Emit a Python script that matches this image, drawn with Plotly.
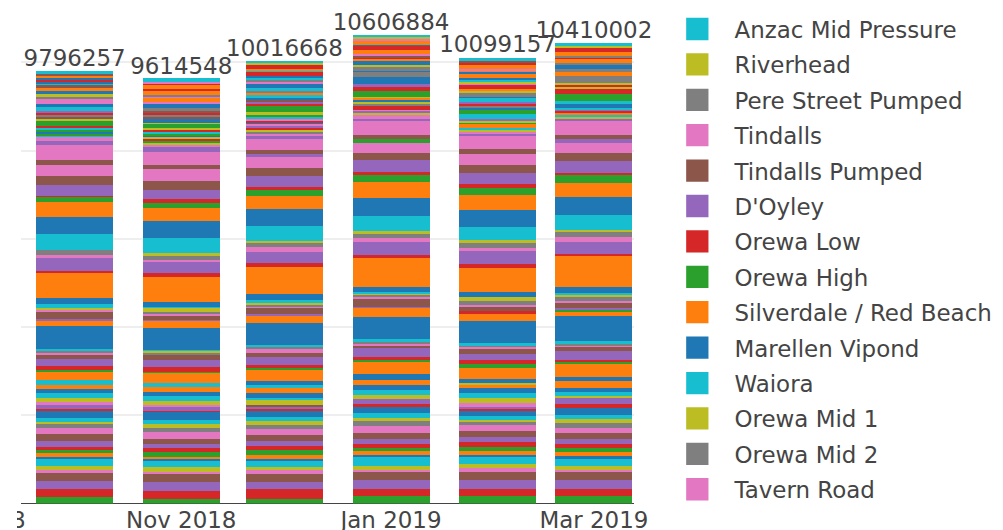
import pandas as pd
import plotly.graph_objects as go

months = ["2018-10-01", "2018-11-01", "2018-12-01", "2019-01-01", "2019-02-01", "2019-03-01"]
totals = [9796257, 9614548, 10016668, 10606884, 10099157, 10410002]

# legend entries, top of the legend first (= top of each stack)
legend_names = ["Anzac Mid Pressure", "Riverhead", "Pere Street Pumped", "Tindalls",
                "Tindalls Pumped", "D'Oyley", "Orewa Low", "Orewa High",
                "Silverdale / Red Beach", "Marellen Vipond", "Waiora", "Orewa Mid 1",
                "Orewa Mid 2", "Tavern Road"]

# per-month values of every zone, stacking order (bottom first)
oct_2018 = [
    0, 0, 136400, 181800, 181800, 181800, 113600, 0, 45500, 181800,
    22700, 90900, 90900, 45500, 136400, 159100, 136400, 113600, 68200, 45500,
    181800, 0, 0, 68200, 68200, 0, 45500, 0, 90900, 113600,
    90900, 90900, 0, 0, 0, 0, 0, 0, 0, 113600,
    0, 227300, 22700, 68200, 159100, 113600, 45500, 22700, 22700, 22700,
    522700, 136400, 0, 0, 22700, 181800, 22700, 22700, 45500, 68200,
    136400, 568200, 0, 45500, 295500, 0, 68200, 113600, 0, 363600,
    386400, 340900, 113600, 22700, 250000, 204500, 250000, 0, 0, 0,
    0, 0, 0, 0, 0, 113600, 340900, 0, 0, 0,
    0, 0, 0, 0, 90900, 0, 90900, 0, 0, 34100,
    0, 0, 34100, 34100, 0, 0, 0, 0, 0, 0,
    34100, 0, 22700, 0, 0, 0, 0, 0, 22700, 22700,
    0, 22700, 0, 22700, 0, 0, 0, 0, 0, 0,
    0, 0, 136400, 0, 0, 0, 0, 0, 45500, 0,
    0, 0, 0, 0, 0, 45500, 0, 45500, 0, 0,
    0, 0, 0, 34100, 34100, 0, 0, 0, 0, 68200,
    113600, 0, 0, 0, 0, 0, 68200, 90900, 34100, 0,
    90900, 45500, 0, 0, 0, 90900, 0, 0, 0, 34100,
    34100, 0, 0, 45500, 0, 0, 4500, 4500, 4500, 4500,
    4500, 45500, 4500, 22700, 4500, 4500, 22700, 4500, 4500, 34100,
]
nov_2018 = [
    0, 0, 113600, 159100, 204500, 181800, 90900, 0, 68200, 181800,
    22700, 68200, 68200, 90900, 90900, 113600, 159100, 90900, 113600, 68200,
    204500, 0, 0, 45500, 68200, 0, 45500, 0, 68200, 113600,
    90900, 113600, 0, 0, 0, 0, 0, 0, 0, 90900,
    0, 250000, 45500, 68200, 159100, 136400, 22700, 22700, 22700, 22700,
    500000, 159100, 0, 0, 22700, 113600, 45500, 22700, 90900, 68200,
    68200, 590900, 0, 68200, 250000, 0, 68200, 68200, 68200, 340900,
    386400, 295500, 113600, 90900, 204500, 204500, 272700, 0, 0, 0,
    0, 0, 0, 0, 0, 90900, 295500, 0, 0, 0,
    0, 0, 0, 0, 113600, 0, 68200, 0, 22700, 22700,
    0, 0, 45500, 34100, 0, 0, 0, 0, 34100, 0,
    45500, 0, 22700, 0, 0, 0, 0, 0, 22700, 22700,
    0, 22700, 0, 34100, 0, 0, 0, 0, 22700, 0,
    0, 0, 113600, 0, 0, 0, 0, 0, 34100, 0,
    68200, 0, 0, 0, 0, 45500, 0, 45500, 0, 0,
    0, 0, 0, 34100, 0, 68200, 0, 68200, 0, 0,
    68200, 0, 0, 0, 0, 0, 45500, 22700, 0, 0,
    0, 68200, 0, 0, 0, 0, 45500, 45500, 0, 22700,
    0, 68200, 0, 34100, 0, 0, 4500, 4500, 4500, 4500,
    4500, 68200, 4500, 22700, 4500, 4500, 34100, 4500, 4500, 34100,
]
dec_2018 = [
    0, 0, 113600, 204500, 159100, 227300, 68200, 0, 45500, 181800,
    22700, 68200, 113600, 90900, 113600, 136400, 136400, 90900, 90900, 90900,
    181800, 0, 0, 22700, 22700, 90900, 0, 0, 68200, 90900,
    68200, 136400, 0, 0, 0, 0, 0, 0, 0, 45500,
    90900, 272700, 45500, 45500, 181800, 113600, 68200, 45500, 22700, 22700,
    500000, 181800, 0, 0, 22700, 159100, 22700, 45500, 45500, 45500,
    136400, 613600, 0, 90900, 250000, 0, 113600, 90900, 45500, 340900,
    386400, 295500, 159100, 45500, 250000, 181800, 250000, 0, 0, 0,
    0, 0, 0, 0, 90900, 68200, 272700, 0, 0, 0,
    0, 0, 0, 0, 45500, 0, 68200, 22700, 34100, 22700,
    0, 0, 0, 34100, 45500, 0, 45500, 0, 0, 0,
    34100, 22700, 0, 34100, 0, 0, 34100, 0, 0, 22700,
    0, 22700, 34100, 22700, 0, 0, 0, 0, 34100, 0,
    0, 0, 136400, 0, 0, 0, 0, 0, 0, 0,
    0, 0, 34100, 34100, 31800, 45500, 0, 0, 0, 0,
    45500, 0, 0, 0, 0, 0, 0, 0, 0, 68200,
    0, 45500, 0, 0, 0, 0, 0, 45500, 0, 45500,
    113600, 0, 0, 0, 0, 0, 68200, 45500, 0, 45500,
    45500, 0, 0, 45500, 0, 0, 4500, 4500, 4500, 34100,
    4500, 68200, 4500, 45500, 4500, 4500, 22700, 4500, 4500, 34100,
]
jan_2019 = [
    0, 0, 159100, 159100, 204500, 181800, 90900, 0, 45500, 227300,
    22700, 90900, 90900, 68200, 113600, 136400, 159100, 113600, 113600, 68200,
    159100, 0, 0, 45500, 113600, 0, 0, 0, 90900, 113600,
    113600, 113600, 0, 0, 0, 0, 0, 0, 0, 0,
    136400, 272700, 45500, 68200, 204500, 90900, 45500, 22700, 22700, 22700,
    500000, 204500, 0, 0, 22700, 181800, 45500, 68200, 45500, 45500,
    68200, 681800, 0, 45500, 295500, 0, 90900, 90900, 68200, 340900,
    409100, 363600, 159100, 68200, 272700, 159100, 250000, 0, 0, 0,
    0, 0, 68200, 0, 0, 90900, 318200, 0, 0, 0,
    0, 0, 0, 0, 68200, 0, 68200, 0, 45500, 0,
    0, 0, 0, 0, 45500, 0, 45500, 0, 0, 0,
    0, 0, 0, 68200, 0, 0, 0, 45500, 34100, 0,
    45500, 45500, 0, 0, 0, 0, 0, 0, 22700, 0,
    0, 0, 159100, 0, 0, 0, 0, 0, 0, 0,
    0, 0, 0, 68200, 68200, 0, 0, 0, 0, 0,
    159100, 0, 0, 0, 0, 0, 0, 113600, 0, 0,
    68200, 0, 0, 0, 0, 0, 0, 45500, 56800, 0,
    68200, 45500, 0, 45500, 0, 45500, 45500, 0, 0, 22700,
    0, 68200, 0, 68200, 0, 0, 4500, 4500, 4500, 4500,
    4500, 113600, 4500, 4500, 4500, 4500, 45500, 4500, 4500, 34100,
]
feb_2019 = [
    0, 0, 159100, 159100, 204500, 181800, 113600, 0, 68200, 181800,
    22700, 113600, 68200, 113600, 113600, 136400, 136400, 68200, 90900, 45500,
    159100, 0, 0, 22700, 45500, 0, 68200, 0, 113600, 113600,
    113600, 113600, 0, 0, 0, 0, 0, 0, 45500, 0,
    45500, 295500, 68200, 68200, 136400, 136400, 45500, 22700, 22700, 22700,
    500000, 159100, 0, 68200, 0, 113600, 22700, 90900, 90900, 0,
    113600, 568200, 0, 68200, 295500, 0, 68200, 136400, 45500, 295500,
    386400, 340900, 159100, 90900, 250000, 181800, 250000, 0, 0, 0,
    0, 0, 0, 0, 0, 113600, 295500, 0, 0, 0,
    0, 0, 0, 0, 45500, 0, 45500, 0, 45500, 68200,
    0, 68200, 45500, 0, 0, 0, 0, 0, 45500, 0,
    0, 0, 0, 0, 45500, 0, 0, 0, 0, 68200,
    0, 0, 113600, 0, 0, 0, 0, 0, 0, 0,
    45500, 0, 0, 0, 0, 0, 0, 68200, 0, 0,
    0, 0, 0, 45500, 45500, 0, 0, 0, 0, 45500,
    68200, 0, 0, 0, 0, 0, 0, 68200, 45500, 0,
    0, 68200, 0, 45500, 0, 0, 45500, 0, 45500, 45500,
    68200, 54500, 0, 0, 0, 0, 0, 0, 0, 0,
    45500, 68200, 0, 0, 0, 0, 4500, 4500, 4500, 4500,
    4500, 68200, 4500, 68200, 4500, 4500, 22700, 4500, 4500, 45500,
]
mar_2019 = [
    0, 0, 159100, 159100, 204500, 181800, 90900, 0, 45500, 204500,
    22700, 90900, 90900, 90900, 113600, 136400, 113600, 113600, 90900, 90900,
    159100, 0, 0, 90900, 136400, 0, 0, 0, 90900, 45500,
    90900, 159100, 0, 0, 0, 0, 0, 0, 0, 0,
    90900, 295500, 68200, 22700, 204500, 113600, 22700, 45500, 22700, 22700,
    568200, 113600, 45500, 0, 22700, 136400, 45500, 68200, 68200, 22700,
    136400, 704500, 0, 45500, 318200, 0, 68200, 113600, 45500, 340900,
    409100, 318200, 181800, 45500, 272700, 181800, 250000, 0, 0, 0,
    0, 0, 0, 0, 68200, 90900, 318200, 0, 0, 0,
    0, 0, 0, 0, 45500, 0, 0, 0, 45500, 45500,
    0, 45500, 0, 45500, 50000, 0, 0, 0, 0, 45500,
    68200, 0, 0, 0, 0, 0, 0, 0, 0, 45500,
    0, 0, 159100, 0, 0, 0, 0, 0, 0, 0,
    0, 0, 0, 113600, 0, 0, 0, 0, 45500, 0,
    0, 0, 0, 45500, 0, 0, 0, 0, 45500, 0,
    0, 0, 0, 0, 0, 0, 0, 181800, 0, 0,
    0, 68200, 0, 0, 0, 0, 0, 68200, 0, 0,
    113600, 0, 0, 0, 0, 0, 0, 45500, 0, 0,
    0, 68200, 0, 68200, 0, 0, 4500, 22700, 4500, 4500,
    4500, 68200, 4500, 68200, 4500, 4500, 22700, 4500, 4500, 45500,
]

month_values = [oct_2018, nov_2018, dec_2018, jan_2019, feb_2019, mar_2019]
n_series = len(oct_2018)

# the shown x window and the tick label just left of it
x_range = ["2018-09-15 07:40", "2019-03-12 14:40"]
cut_tick = "2018-09-01"

palette = ["#1f77b4", "#ff7f0e", "#2ca02c", "#d62728", "#9467bd",
           "#8c564b", "#e377c2", "#7f7f7f", "#bcbd22", "#17becf"]
FONT = "DejaVu Sans"
FS = 12.35
TXT = "#444444"
SCALE = 1.858

fig = go.Figure()
for i in range(n_series):
    k = n_series - 1 - i
    named = k < len(legend_names)
    name = legend_names[k] if named else "Zone %d" % (i + 1)
    fig.add_trace(go.Bar(
        x=months,
        y=[m[i] for m in month_values],
        name=name,
        showlegend=named,
        legendrank=(k + 1) if named else 1000,
        marker=dict(color=palette[i % 10], line=dict(width=0)),
    ))

fig.add_trace(go.Scatter(
    x=months, y=totals, text=[str(t) for t in totals],
    mode="text", textposition="top center", showlegend=False, cliponaxis=False,
    textfont=dict(family=FONT, size=FS, color=TXT), hoverinfo="skip",
))

r0, r1 = pd.Timestamp(x_range[0]), pd.Timestamp(x_range[1])
cut_frac = (pd.Timestamp(cut_tick) - r0) / (r1 - r0)
fig.add_annotation(
    x=cut_frac, y=0, xref="paper", yref="paper", xanchor="center", yanchor="top",
    text=pd.Timestamp(cut_tick).strftime("%b %Y"), showarrow=False,
    font=dict(family=FONT, size=FS, color=TXT),
)

fig.update_layout(
    template="none",
    width=531, height=286,
    margin=dict(l=1.615, r=198.93, t=6.46, b=15.28, pad=0, autoexpand=False),
    paper_bgcolor="white", plot_bgcolor="white",
    font=dict(family=FONT, size=FS, color=TXT),
    barmode="stack",
    bargap=0.2,
    showlegend=True,
    legend=dict(x=1.0429, y=1.0186, xanchor="left", yanchor="top",
                traceorder="normal", maxheight=400,
                font=dict(family=FONT, size=FS, color=TXT)),
    xaxis=dict(type="date", range=x_range,
               tick0="2018-11-01", dtick="M2", tickformat="%b %Y",
               showgrid=False, zeroline=False, showline=False, ticks="",
               tickfont=dict(family=FONT, size=FS, color=TXT)),
    yaxis=dict(range=[0, 11160000], dtick=2000000, showticklabels=False,
               showgrid=True, gridcolor="#eeeeee", gridwidth=1,
               zeroline=True, zerolinecolor="#444444", zerolinewidth=1,
               ticks=""),
)

# the reference shows this chart enlarged, its left edge 17px in
post = ("document.body.style.margin='0';"
        "var gd=document.getElementById('{plot_id}');"
        "gd.style.transformOrigin='0 0';"
        "gd.style.transform='translate(17px,0px) scale(%s)';" % SCALE)

fig.write_html("out.html", post_script=post)
